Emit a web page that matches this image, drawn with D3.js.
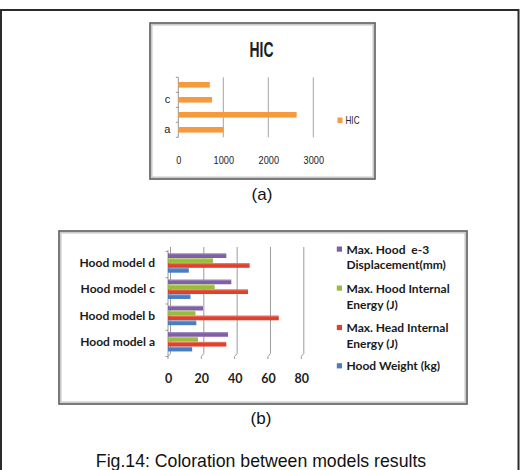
<!DOCTYPE html>
<html>
<head>
<meta charset="utf-8">
<script src="https://cdn.jsdelivr.net/npm/d3@7"></script>
<style>
  body { margin: 0; background: #fff; }
  svg { display: block; }
</style>
</head>
<body>
<script>
// chart (a): HIC
var hicCats = ["a", "b", "c", "d"];
var hicValues = [1000, 2630, 750, 700];
var hicTicks = [0, 1000, 2000, 3000];

// chart (b): hood models
var hoodModels = ["Hood model a", "Hood model b", "Hood model c", "Hood model d"];
var hoodDisp = [36, 21, 38, 35];       // Max. Hood e-3 Displacement(mm)
var hoodEnergy = [18, 16.5, 28, 27];   // Max. Hood Internal Energy (J)
var headEnergy = [35, 66.5, 48, 49];   // Max. Head Internal Energy (J)
var hoodWeight = [14.5, 17, 13.5, 12.5]; // Hood Weight (kg)
var hoodTicks = [0, 20, 40, 60, 80];
var seriesNames = [
  ["Max. Hood  e-3", "Displacement(mm)"],
  ["Max. Hood Internal", "Energy (J)"],
  ["Max. Head Internal", "Energy (J)"],
  ["Hood Weight (kg)"]
];
var seriesColors = ["#7f5fa6", "#9bbb3b", "#e0402c", "#4a7cc0"];

var W = 524, H = 470;
var svg = d3.select("body").append("svg")
  .attr("width", W).attr("height", H);

// outer figure frame
svg.append("rect")
  .attr("x", 1).attr("y", 10)
  .attr("width", 517.5).attr("height", 480)
  .attr("fill", "none").attr("stroke", "#2b2b2b").attr("stroke-width", 2);

function frame(x, y, w, h) {
  svg.append("rect").attr("x", x).attr("y", y).attr("width", w).attr("height", h)
    .attr("fill", "#fff").attr("stroke", "#5a5a5a").attr("stroke-width", 1.6);
  svg.append("rect").attr("x", x + 1.8).attr("y", y + 1.8).attr("width", w - 3.6).attr("height", h - 3.6)
    .attr("fill", "none").attr("stroke", "#c4c4c4").attr("stroke-width", 1.4);
}

// ---------- chart (a) ----------
frame(150, 23, 225, 156);

var xa = d3.scaleLinear().domain([0, 3000]).range([178.3, 313.3]);
var ya = d3.scaleBand().domain(hicCats.slice().reverse()).range([77.3, 137.3]);

svg.append("text").attr("x", 261.5).attr("y", 56.5)
  .attr("text-anchor", "middle")
  .attr("font-family", "Liberation Sans, Arial, sans-serif")
  .attr("font-weight", "bold").attr("font-size", 22)
  .attr("textLength", 24).attr("lengthAdjust", "spacingAndGlyphs")
  .attr("fill", "#1e1e1e").text("HIC");

var ga = svg.append("g");
// gridlines
ga.selectAll("line.grid").data(hicTicks.slice(1)).enter().append("line")
  .attr("x1", function(d){ return xa(d); }).attr("x2", function(d){ return xa(d); })
  .attr("y1", 77.3).attr("y2", 137.3)
  .attr("stroke", "#9a9a9a").attr("stroke-width", 0.9);
// left axis line + ticks at band edges
ga.append("line").attr("x1", xa(0)).attr("x2", xa(0)).attr("y1", 77.3).attr("y2", 137.3)
  .attr("stroke", "#8a8a8a").attr("stroke-width", 0.9);
var edgesA = hicCats.map(function(c){ return ya(c); }).concat([ya.range()[1]]);
ga.selectAll("line.tk").data(edgesA).enter().append("line")
  .attr("x1", xa(0) - 2.5).attr("x2", xa(0))
  .attr("y1", function(d){ return d; }).attr("y2", function(d){ return d; })
  .attr("stroke", "#8a8a8a").attr("stroke-width", 0.9);

ga.selectAll("rect.bar").data(hicValues).enter().append("rect")
  .attr("x", xa(0))
  .attr("y", function(d, i){ return ya(hicCats[i]) + ya.bandwidth() / 2 - 2.8; })
  .attr("width", function(d){ return xa(d) - xa(0); })
  .attr("height", 5.6)
  .attr("fill", "#f79a3e");

// axis labels
var axA = svg.append("g").attr("transform", "translate(0,153)")
  .call(d3.axisBottom(xa).tickValues(hicTicks).tickSize(0).tickFormat(d3.format("d")));
axA.select(".domain").remove();
axA.selectAll("text").attr("font-family", "Liberation Sans, Arial, sans-serif")
  .attr("font-size", 11).attr("fill", "#222")
  .attr("textLength", function(d){ return String(d).length * 5.1; })
  .attr("lengthAdjust", "spacingAndGlyphs");

var ayA = svg.append("g").attr("transform", "translate(" + (xa(0) - 8) + ",0)")
  .call(d3.axisLeft(ya).tickValues(["a", "c"]).tickSize(0));
ayA.select(".domain").remove();
ayA.selectAll("text").attr("font-family", "Liberation Sans, Arial, sans-serif")
  .attr("font-size", 11).attr("fill", "#222").attr("x", 0);

// legend (a)
svg.append("rect").attr("x", 337.5).attr("y", 117.5).attr("width", 5).attr("height", 5.5).attr("fill", "#f79a3e");
svg.append("text").attr("x", 345.5).attr("y", 124.3)
  .attr("font-family", "Liberation Sans, Arial, sans-serif")
  .attr("font-size", 11).attr("textLength", 14).attr("lengthAdjust", "spacingAndGlyphs")
  .attr("fill", "#222").text("HIC");

svg.append("text").attr("x", 262).attr("y", 200)
  .attr("text-anchor", "middle")
  .attr("font-family", "Liberation Sans, Arial, sans-serif")
  .attr("font-size", 17).attr("fill", "#111").text("(a)");

// ---------- chart (b) ----------
frame(59, 231, 408, 173);

var xb = d3.scaleLinear().domain([0, 80]).range([168, 301.3]);
var yb = d3.scaleBand().domain(hoodModels.slice().reverse()).range([251.5, 356.5]);
var top_b = 247, bot_b = 356.5;

var gb = svg.append("g");
// back-wall gridlines with short floor diagonal
gb.selectAll("path.grid").data(hoodTicks.slice(1)).enter().append("path")
  .attr("d", function(d){
    var x = xb(d);
    return "M" + (x + 2.5) + "," + top_b + "V" + (bot_b - 3) + "L" + x + "," + bot_b;
  })
  .attr("fill", "none").attr("stroke", "#8f8f8f").attr("stroke-width", 0.9);
// left wall
gb.append("path")
  .attr("d", "M" + (xb(0) + 2.5) + "," + top_b + "V" + (bot_b - 3) + "L" + xb(0) + "," + bot_b
    + "M" + xb(0) + "," + (top_b + 3) + "V" + bot_b)
  .attr("fill", "none").attr("stroke", "#8f8f8f").attr("stroke-width", 0.9);
var edgesB = hoodModels.map(function(c){ return yb(c); }).concat([yb.range()[1]]);
gb.selectAll("line.tk").data(edgesB).enter().append("line")
  .attr("x1", xb(0) - 2.5).attr("x2", xb(0))
  .attr("y1", function(d){ return d; }).attr("y2", function(d){ return d; })
  .attr("stroke", "#8f8f8f").attr("stroke-width", 0.9);
// floor tick marks
gb.selectAll("line.ftk").data(hoodTicks).enter().append("line")
  .attr("x1", function(d){ return xb(d); }).attr("x2", function(d){ return xb(d); })
  .attr("y1", bot_b).attr("y2", bot_b + 2.5)
  .attr("stroke", "#8f8f8f").attr("stroke-width", 0.9);

var seriesVals = [hoodDisp, hoodEnergy, headEnergy, hoodWeight];
var barH = 4.7, pitch = 4.9, off0 = 1.8;
seriesVals.forEach(function(vals, s){
  gb.selectAll("rect.s" + s).data(vals).enter().append("rect")
    .attr("x", xb(0))
    .attr("y", function(d, i){ return yb(hoodModels[i]) + off0 + s * pitch; })
    .attr("width", function(d){ return xb(d) - xb(0); })
    .attr("height", barH)
    .attr("fill", seriesColors[s]);
  // light top face for the 3D look
  gb.selectAll("rect.h" + s).data(vals).enter().append("rect")
    .attr("x", xb(0) + 1)
    .attr("y", function(d, i){ return yb(hoodModels[i]) + off0 + s * pitch; })
    .attr("width", function(d){ return xb(d) - xb(0); })
    .attr("height", 1.2)
    .attr("fill", "#fff").attr("opacity", 0.25);
});

var axB = svg.append("g").attr("transform", "translate(0," + 371 + ")")
  .call(d3.axisBottom(xb).tickValues(hoodTicks).tickSize(0));
axB.select(".domain").remove();
axB.selectAll("text").attr("font-family", "Lato, sans-serif")
  .attr("font-size", 12.5).attr("font-weight", "bold").attr("fill", "#222");

var ayB = svg.append("g").attr("transform", "translate(155,0)")
  .call(d3.axisLeft(yb).tickSize(0));
ayB.select(".domain").remove();
ayB.selectAll("text").attr("font-family", "Lato, sans-serif")
  .attr("font-size", 12).attr("font-weight", "bold").attr("fill", "#1a1a1a").attr("x", 0)
  .attr("dy", "0.2em");

// legend (b)
var legRowsY = [[249.3, 265], [288.3, 304.3], [327.7, 343.3], [366]];
var leg = svg.append("g");
seriesNames.forEach(function(lines, s){
  leg.append("rect").attr("x", 336.8).attr("y", legRowsY[s][0] - 2.8)
    .attr("width", 5.2).attr("height", 5.2).attr("fill", seriesColors[s]);
  lines.forEach(function(t, k){
    leg.append("text").attr("x", 346.5).attr("y", legRowsY[s][k] + 4.4)
      .attr("font-family", "Lato, sans-serif").attr("font-weight", "bold")
      .attr("font-size", 12).attr("fill", "#1a1a1a")
      .attr("xml:space", "preserve")
      .text(t);
  });
});

svg.append("text").attr("x", 261).attr("y", 424)
  .attr("text-anchor", "middle")
  .attr("font-family", "Liberation Sans, Arial, sans-serif")
  .attr("font-size", 17).attr("fill", "#111").text("(b)");

svg.append("text").attr("x", 261).attr("y", 467)
  .attr("text-anchor", "middle")
  .attr("font-family", "Liberation Sans, Arial, sans-serif")
  .attr("font-size", 17.7).attr("fill", "#111")
  .text("Fig.14: Coloration between models results");
</script>
</body>
</html>
